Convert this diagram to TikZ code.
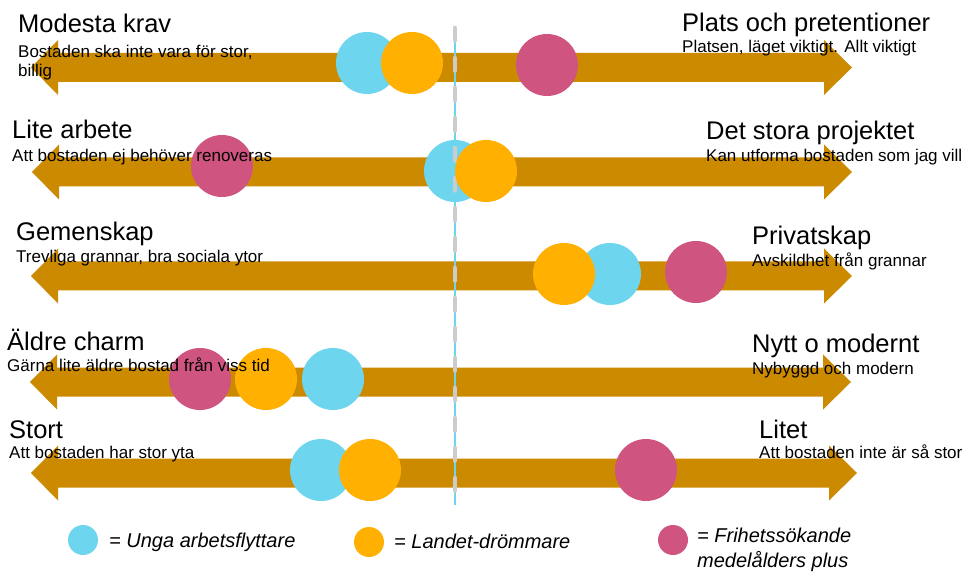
\documentclass[tikz,border=0pt]{standalone}
\usepackage{fontspec}
\setmainfont{Liberation Sans}
\definecolor{arr}{HTML}{CC8A00}
\definecolor{cy}{HTML}{6DD5ED}
\definecolor{og}{HTML}{FFB000}
\definecolor{pk}{HTML}{D05480}
\definecolor{dg}{HTML}{CCCCCC}
\newcommand\dblarr[3]{%
 \fill[arr] (#2,#1) -- (#2+27,#1-27.5) -- (#2+27,#1-14.5) -- (#3-28,#1-14.5) -- (#3-28,#1-27.5) -- (#3,#1) -- (#3-28,#1+27.5) -- (#3-28,#1+14.5) -- (#2+27,#1+14.5) -- (#2+27,#1+27.5) -- cycle;}
\begin{document}
\begin{tikzpicture}[x=1pt,y=-1pt,
  ttl/.style={anchor=base west,inner sep=0pt,font=\fontsize{25.5}{30}\selectfont},
  sub/.style={anchor=base west,inner sep=0pt,font=\fontsize{17}{19.5}\selectfont,align=left},
  leg/.style={anchor=base west,inner sep=0pt,font=\fontsize{20}{25}\selectfont\itshape,align=left},
  cc/.style={circle,inner sep=0pt,minimum size=62pt,fill=#1},
  lc/.style={circle,inner sep=0pt,minimum size=30pt,fill=#1}]
\useasboundingbox[fill=white] (0,0) rectangle (967,572);
% arrows
\dblarr{67.5}{31}{852}
\dblarr{172}{32}{852}
\dblarr{276}{31}{852}
\dblarr{382}{30}{851}
\dblarr{473}{31}{857}
% circles row 1
\node[cc=cy] (c1) at (367,63) {};
\node[cc=og] (o1) at (412,63) {};
\node[cc=pk] (p1) at (547,65) {};
% row 2
\node[cc=pk] (p2) at (222,166) {};
\node[cc=cy] (c2) at (455,171) {};
% row 3
\node[cc=cy] (c3) at (610,274) {};
\node[cc=og] (o3) at (564,274) {};
\node[cc=pk] (p3) at (696,272) {};
% row 4
\node[cc=pk] (p4) at (200,379) {};
\node[cc=og] (o4) at (266,379) {};
\node[cc=cy] (c4) at (333,379) {};
% row 5
\node[cc=cy] (c5) at (321,470) {};
\node[cc=og] (o5) at (370,470) {};
\node[cc=pk] (p5) at (646,470) {};
% centre line
\coordinate (lt) at (455,26);
\coordinate (lb) at (455,505);
\draw[cy,line width=1.2pt] (lt) -- (lb);
\draw[dg,line width=4.5pt,line cap=round,dash pattern=on 12.5pt off 17.5pt] ([yshift=-2pt]lt) -- (lb);
\node[cc=og] (o2) at (486,171) {};
% texts
\node[ttl] (t1l) at (18,33) {Modesta krav};
\node[sub] (s1l) at (18,77) {Bostaden ska inte vara för stor,\\billig};
\node[ttl] (t1r) at (682,32) {Plats och pretentioner};
\node[sub] (s1r) at (682,53) {Platsen, läget viktigt. Allt viktigt};
\node[ttl] (t2l) at (12,139) {Lite arbete};
\node[sub] (s2l) at (12,162) {Att bostaden ej behöver renoveras};
\node[ttl] (t2r) at (706,140) {Det stora projektet};
\node[sub] (s2r) at (706,162) {Kan utforma bostaden som jag vill};
\node[ttl] (t3l) at (16,241) {Gemenskap};
\node[sub] (s3l) at (16,263) {Trevliga grannar, bra sociala ytor};
\node[ttl] (t3r) at (752,245) {Privatskap};
\node[sub] (s3r) at (752,267) {Avskildhet från grannar};
\node[ttl] (t4l) at (7,350) {Äldre charm};
\node[sub] (s4l) at (7,371) {Gärna lite äldre bostad från viss tid};
\node[ttl] (t4r) at (752,352) {Nytt o modernt};
\node[sub] (s4r) at (752,374) {Nybyggd och modern};
\node[ttl] (t5l) at (9,438) {Stort};
\node[sub] (s5l) at (9,458) {Att bostaden har stor yta};
\node[ttl] (t5r) at (759,438) {Litet};
\node[sub] (s5r) at (759,458) {Att bostaden inte är så stor};
% legend
\node[lc=cy] (lc1) at (83,540) {};
\node[leg] (lt1) at (109,547) {= Unga arbetsflyttare};
\node[lc=og] (lc2) at (369,542) {};
\node[leg] (lt2) at (394,548) {= Landet-drömmare};
\node[lc=pk] (lc3) at (673,540) {};
\node[leg] (lt3) at (697,567) {= Frihetssökande\\medelålders plus};
\end{tikzpicture}
\end{document}
